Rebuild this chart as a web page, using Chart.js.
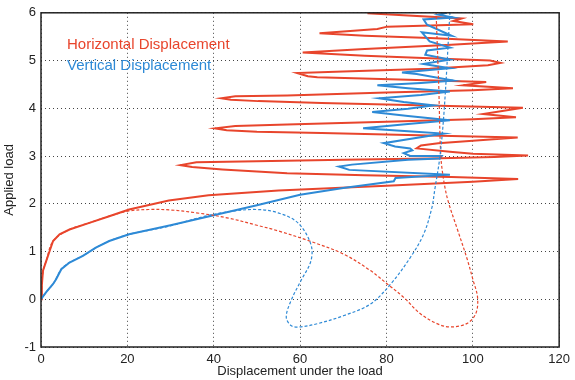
<!DOCTYPE html>
<html>
<head>
<meta charset="utf-8">
<script src="https://cdn.jsdelivr.net/npm/chart.js@4/dist/chart.umd.min.js"></script>
<style>
  html, body { margin: 0; padding: 0; background: #fff; }
  #wrap { width: 575px; height: 380px; }
</style>
</head>
<body>
<div id="wrap"><canvas id="loadChart"></canvas></div>
<script>
// axis ticks
const xTicks = [0, 20, 40, 60, 80, 100, 120];
const yTicks = [-1, 0, 1, 2, 3, 4, 5, 6];

const seriesNames = ['Horizontal Displacement', 'Vertical Displacement'];

// horizontal displacement (solid)
const horizX = [0, 0.2, 0.46, 1.2, 2.0, 2.8, 4.3, 6.6, 11.2, 15.8, 20.4, 29.6, 38.8, 55, 80, 100, 110.5,
  95, 75, 57, 42, 35, 32.3,
  36, 50, 70, 90, 105, 112.8,
  100, 94.7, 87, 88, 92, 101.6, 110.4,
  85, 65, 50, 43, 40.3,
  45, 57, 80, 100, 110, 102.4, 111.6,
  85, 65, 50.3, 44, 41.8,
  45, 57, 80, 100, 109.3, 97.8, 103.1,
  85, 64, 61.8, 59.3,
  70, 90, 103.5, 106.4,
  104, 90, 75, 60.6,
  75, 95, 108.1,
  90, 75, 64.5,
  77.9, 80.2, 100.1, 95.5, 97.4, 75.6];
const horizY = [0, 0.3, 0.6, 0.8, 1.01, 1.22, 1.36, 1.46, 1.6, 1.74, 1.88, 2.07, 2.18, 2.28, 2.38, 2.46, 2.52,
  2.56, 2.6, 2.64, 2.72, 2.77, 2.81,
  2.87, 2.89, 2.92, 2.95, 2.98, 3.01,
  3.05, 3.09, 3.16, 3.22, 3.27, 3.33, 3.39,
  3.44, 3.48, 3.51, 3.54, 3.58,
  3.63, 3.66, 3.72, 3.77, 3.81, 3.88, 4.01,
  4.07, 4.11, 4.15, 4.18, 4.21,
  4.25, 4.27, 4.33, 4.38, 4.42, 4.48, 4.55,
  4.6, 4.65, 4.67, 4.74,
  4.77, 4.83, 4.9, 4.95,
  5.0, 5.05, 5.1, 5.17,
  5.24, 5.33, 5.4,
  5.47, 5.52, 5.57,
  5.66, 5.71, 5.76, 5.83, 5.88, 5.99];

// vertical displacement (solid)
const vertX = [0, 1.2, 2.8, 3.5, 4.7, 6.6, 9.7, 12.7, 15.8, 20.4, 30, 40, 50, 60, 70, 81.7, 82.1, 93.2, 94.7,
  71.4, 69, 72, 85, 92.4, 92.8, 85.5, 84, 86, 85.5, 82, 79.4, 85, 93.2, 85, 74.6, 85, 94.7, 85, 76.7,
  85, 90.9, 84, 78.3, 88, 94.7, 85, 77.9, 88, 95.5, 87, 83.6, 90, 94.7, 88.6, 94.7, 89, 89.4, 94.7,
  90, 88.2, 95.1, 89.4, 88.6, 95.5, 92, 94];
const vertY = [0, 0.15, 0.32, 0.42, 0.63, 0.77, 0.91, 1.08, 1.22, 1.36, 1.55, 1.76, 1.97, 2.19, 2.33, 2.47, 2.54, 2.6, 2.61,
  2.71, 2.78, 2.82, 2.92, 2.95, 3.0, 3.0, 3.06, 3.12, 3.16, 3.2, 3.27, 3.35, 3.47, 3.52, 3.58, 3.67, 3.75, 3.84, 3.92,
  3.99, 4.06, 4.13, 4.21, 4.28, 4.35, 4.42, 4.48, 4.53, 4.58, 4.72, 4.75, 4.8, 4.84, 4.93, 5.02, 5.12, 5.21, 5.27,
  5.4, 5.59, 5.52, 5.75, 5.86, 5.9, 5.96, 6.0];

// horizontal displacement (dashed)
const horizDashX = [0, 0.5, 1.2, 2.8, 6.6, 11.2, 15.8, 20.4, 25, 30, 36, 43.4, 50, 55, 62.5, 70.2, 76.3, 80.2, 84, 87.8,
  91.7, 94.7, 98.6, 100.7, 101.1, 100.1, 98.6, 96.3, 94.3, 93.3, 92.6, 92.1, 91.5];
const horizDashY = [0, 0.6, 0.8, 1.22, 1.46, 1.6, 1.74, 1.85, 1.88, 1.87, 1.81, 1.7, 1.55, 1.43, 1.21, 0.94, 0.6, 0.32, 0.04, -0.3,
  -0.51, -0.58, -0.51, -0.3, 0.04, 0.39, 0.87, 1.5, 2.05, 2.47, 3.0, 4.5, 6.0];

// vertical displacement (dashed)
const vertDashX = [0, 1.2, 2.8, 4.7, 6.6, 9.7, 12.7, 15.8, 20.4, 29.6, 38, 44, 50, 54.9, 59.5, 62.5, 62.5, 60.2, 57.9, 56.8,
  57.9, 59.9, 64.1, 70.2, 76.3, 81, 85.5, 88.6, 90.5, 91.2, 92.4, 93.4, 94.7];
const vertDashY = [0, 0.15, 0.32, 0.63, 0.77, 0.91, 1.08, 1.22, 1.36, 1.53, 1.74, 1.84, 1.88, 1.81, 1.6, 1.15, 0.8, 0.39, -0.03, -0.37,
  -0.55, -0.58, -0.51, -0.34, -0.1, 0.32, 0.87, 1.36, 1.91, 2.3, 3.0, 4.0, 6.0];

const RED = '#e8452c';
const BLUE = '#2e8ad6';

const pts = (xs, ys) => xs.map((x, i) => ({ x: x, y: ys[i] }));

// frame box and in-plot legend text
const framePlugin = {
  id: 'frame',
  afterDatasetsDraw(chart) {
    const { ctx, chartArea: a } = chart;
    ctx.save();
    ctx.strokeStyle = '#222';
    ctx.lineWidth = 1.5;
    ctx.strokeRect(a.left, a.top, a.right - a.left, a.bottom - a.top);

    ctx.font = '15px "Liberation Sans", Arial, sans-serif';
    ctx.textBaseline = 'alphabetic';
    ctx.fillStyle = RED;
    ctx.fillText(seriesNames[0], 67, 49);
    ctx.fillStyle = BLUE;
    ctx.fillText(seriesNames[1], 67, 70);
    ctx.restore();
  }
};

const gridStyle = {
  color: '#444',
  lineWidth: 1,
  drawTicks: false
};

new Chart(document.getElementById('loadChart'), {
  type: 'scatter',
  data: {
    datasets: [
      {
        label: seriesNames[1] + ' (dashed)',
        data: pts(vertDashX, vertDashY),
        borderColor: BLUE,
        borderWidth: 1.2,
        borderDash: [3, 2],
        showLine: true,
        pointRadius: 0,
        tension: 0.35,
        order: 1
      },
      {
        label: seriesNames[0] + ' (dashed)',
        data: pts(horizDashX, horizDashY),
        borderColor: RED,
        borderWidth: 1.2,
        borderDash: [3, 2],
        showLine: true,
        pointRadius: 0,
        tension: 0.35,
        order: 2
      },
      {
        label: seriesNames[1],
        data: pts(vertX, vertY),
        borderColor: BLUE,
        borderWidth: 2,
        showLine: true,
        pointRadius: 0,
        tension: 0,
        order: 3
      },
      {
        label: seriesNames[0],
        data: pts(horizX, horizY),
        borderColor: RED,
        borderWidth: 2,
        showLine: true,
        pointRadius: 0,
        tension: 0,
        order: 4
      }
    ]
  },
  options: {
    responsive: true,
    maintainAspectRatio: false,
    animation: false,
    layout: { padding: { top: 10, right: 12, left: 0, bottom: 0 } },
    plugins: {
      legend: { display: false },
      tooltip: { enabled: false }
    },
    scales: {
      x: {
        type: 'linear',
        min: 0,
        max: 120,
        afterBuildTicks: s => { s.ticks = xTicks.map(v => ({ value: v })); },
        afterFit: s => { s.height = 33; },
        grid: gridStyle,
        border: { display: false, dash: [1, 3] },
        ticks: { color: '#222', padding: 5, font: { size: 13, family: '"Liberation Sans", Arial, sans-serif' } },
        title: {
          display: true,
          text: 'Displacement under the load',
          color: '#222',
          padding: { top: 0, bottom: 1 },
          font: { size: 13, family: '"Liberation Sans", Arial, sans-serif' }
        }
      },
      y: {
        type: 'linear',
        min: -1,
        max: 6,
        afterBuildTicks: s => { s.ticks = yTicks.map(v => ({ value: v })); },
        afterFit: s => { s.width = 41; },
        grid: gridStyle,
        border: { display: false, dash: [1, 3] },
        ticks: { color: '#222', padding: 5, font: { size: 13, family: '"Liberation Sans", Arial, sans-serif' } },
        title: {
          display: true,
          text: 'Applied load',
          color: '#222',
          padding: { top: 2, bottom: 0 },
          font: { size: 13, family: '"Liberation Sans", Arial, sans-serif' }
        }
      }
    }
  },
  plugins: [framePlugin]
});
</script>
</body>
</html>
